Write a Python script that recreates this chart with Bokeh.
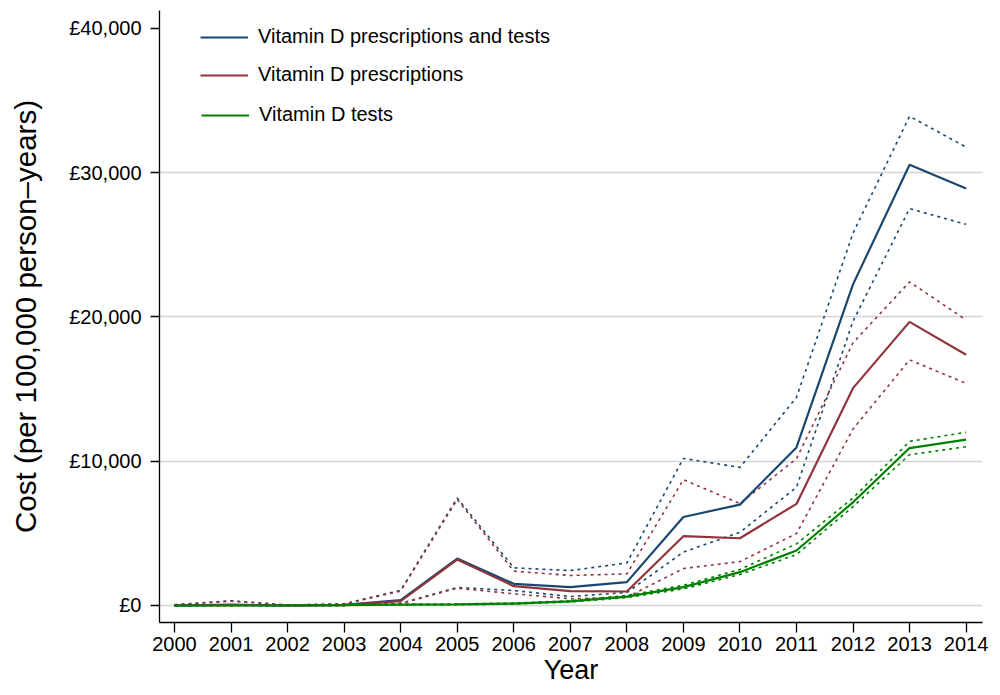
from bokeh.plotting import figure
from bokeh.models import FixedTicker, Range1d, Legend, LegendItem
from bokeh.embed import file_html
from bokeh.resources import INLINE

years = list(range(2000, 2015))

both_est = [0, 60, 0, 40, 370, 3250, 1500, 1270, 1620, 6130, 6990, 10950, 22250, 30540, 28900]
both_hi = [50, 330, 30, 120, 1050, 7450, 2610, 2420, 2950, 10190, 9570, 14420, 25800, 33900, 31760]
both_lo = [0, 20, 0, 10, 150, 1250, 1040, 620, 900, 3700, 5070, 8190, 19700, 27500, 26410]

presc_est = [0, 30, 0, 20, 300, 3180, 1340, 990, 970, 4800, 4660, 7040, 15060, 19650, 17370]
presc_hi = [50, 300, 30, 100, 1000, 7350, 2380, 2080, 2190, 8720, 7060, 10170, 18200, 22420, 19790]
presc_lo = [0, 20, 0, 10, 130, 1200, 810, 460, 570, 2560, 3040, 4980, 12230, 17020, 15390]

tests_est = [0, 0, 0, 20, 60, 80, 130, 280, 620, 1270, 2310, 3810, 7150, 10910, 11490]
tests_hi = [10, 10, 10, 40, 90, 110, 170, 330, 700, 1400, 2500, 4270, 7450, 11370, 12000]
tests_lo = [0, 0, 0, 10, 40, 60, 100, 240, 550, 1150, 2150, 3530, 6850, 10450, 11000]

series_labels = ["Vitamin D prescriptions and tests", "Vitamin D prescriptions", "Vitamin D tests"]
y_ticks = [0, 10000, 20000, 30000, 40000]
y_tick_labels = ["£0", "£10,000", "£20,000", "£30,000", "£40,000"]
grid_ticks = [0, 10000, 20000, 30000]
x_title = "Year"
y_title = "Cost (per 100,000 person–years)"

BLUE = "#1a476f"
RED = "#90353b"
GREEN = "#008000"
FONT = "Liberation Sans"

W, H = 992, 687
p = figure(width=W, height=H, output_backend="svg", toolbar_location=None,
           x_range=Range1d(1999.735, 2014.29), y_range=Range1d(-1178, 41226),
           min_border_left=159, min_border_right=10, min_border_top=10, min_border_bottom=65)
p.outline_line_color = None
p.background_fill_color = "white"

# gridlines
p.xgrid.visible = False
p.ygrid.ticker = FixedTicker(ticks=grid_ticks)
p.ygrid.grid_line_color = "#d4d4d4"
p.ygrid.grid_line_width = 1.5

# axes
for ax in (p.xaxis[0], p.yaxis[0]):
    ax.axis_line_color = "black"
    ax.axis_line_width = 1.3
    ax.major_tick_line_color = "black"
    ax.major_tick_line_width = 1.3
    ax.major_tick_in = 0
    ax.minor_tick_line_color = None
    ax.major_label_text_font = FONT
    ax.major_label_text_font_size = "20px"
    ax.major_label_text_color = "black"
    ax.axis_label_text_font = FONT
    ax.axis_label_text_font_style = "normal"
    ax.axis_label_text_color = "black"

p.xaxis.ticker = FixedTicker(ticks=years)
p.xaxis.major_label_overrides = {y: str(y) for y in years}
p.xaxis.major_tick_out = 10
p.xaxis.major_label_standoff = 4
p.xaxis.axis_label = x_title
p.xaxis.axis_label_text_font_size = "27px"
p.xaxis.axis_label_standoff = 1

p.yaxis.ticker = FixedTicker(ticks=y_ticks)
p.yaxis.major_label_overrides = {t: l for t, l in zip(y_ticks, y_tick_labels)}
p.yaxis.major_tick_out = 9
p.yaxis.major_label_standoff = 9
p.yaxis.axis_label = y_title
p.yaxis.axis_label_text_font_size = "29.5px"
p.yaxis.axis_label_standoff = 24

dash = "3 4"
renderers = []
for est, hi, lo, col in [(both_est, both_hi, both_lo, BLUE),
                         (presc_est, presc_hi, presc_lo, RED),
                         (tests_est, tests_hi, tests_lo, GREEN)]:
    p.line(years, hi, line_color=col, line_width=1.6, line_dash=dash)
    p.line(years, lo, line_color=col, line_width=1.6, line_dash=dash)

for est, col in [(both_est, BLUE), (presc_est, RED), (tests_est, GREEN)]:
    r = p.line(years, est, line_color=col, line_width=2.2)
    renderers.append(r)

# legends positioned individually (frame height = 612)
positions = [(41, 574), (41, 536), (42, 496)]
for lab, r, loc in zip(series_labels, renderers, positions):
    leg = Legend(items=[LegendItem(label=lab, renderers=[r])], location=loc,
                 border_line_alpha=0, background_fill_alpha=0,
                 padding=0, margin=0, glyph_width=48, glyph_height=20,
                 label_standoff=10, label_text_font=FONT,
                 label_text_font_size="20px", label_text_color="black",
                 label_height=20)
    p.add_layout(leg, "center")

open("out.html", "w").write(file_html(p, INLINE))
